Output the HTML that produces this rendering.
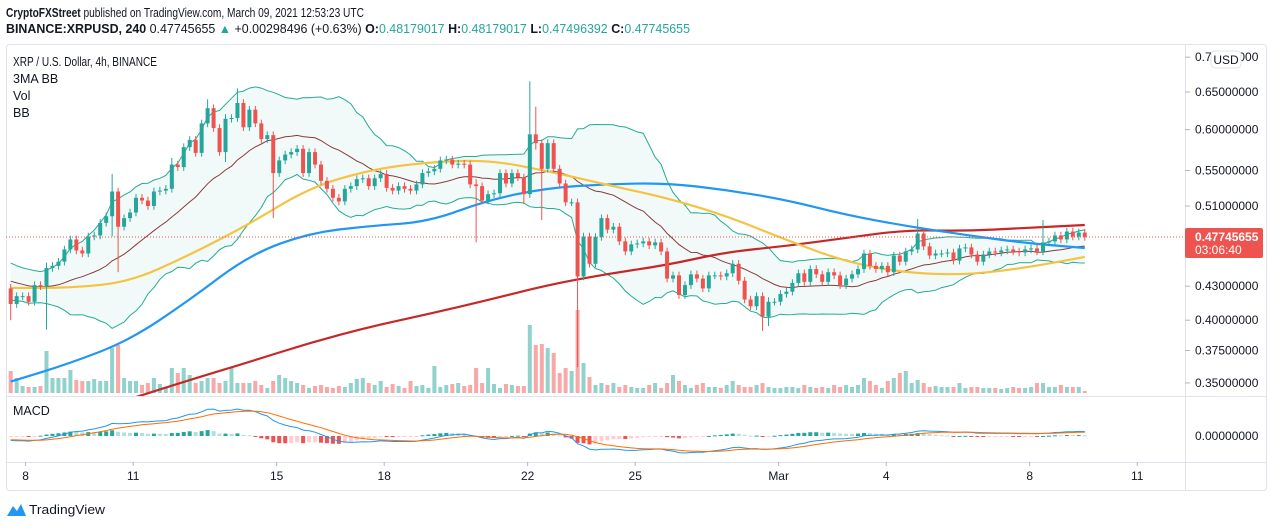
<!DOCTYPE html>
<html><head><meta charset="utf-8"><style>
html,body{margin:0;padding:0;background:#fff;}
svg{display:block;font-family:"Liberation Sans",sans-serif;}
</style></head><body>
<svg id="chart" width="1274" height="528" viewBox="0 0 1274 528" xmlns="http://www.w3.org/2000/svg">
<rect x="0" y="0" width="1274" height="528" fill="#fff"/>
<text x="6" y="17" font-size="12.5" fill="#131722" textLength="358" lengthAdjust="spacingAndGlyphs"><tspan font-weight="bold">CryptoFXStreet</tspan> published on TradingView.com, March 09, 2021 12:53:23 UTC</text>
<text x="6" y="33" font-size="12.5" fill="#131722" textLength="684" lengthAdjust="spacingAndGlyphs"><tspan font-weight="bold">BINANCE:XRPUSD, 240</tspan> 0.47745655 <tspan fill="#26a69a">▲</tspan> +0.00298496 (+0.63%) <tspan font-weight="bold">O:</tspan><tspan fill="#26a69a">0.48179017</tspan> <tspan font-weight="bold">H:</tspan><tspan fill="#26a69a">0.48179017</tspan> <tspan font-weight="bold">L:</tspan><tspan fill="#26a69a">0.47496392</tspan> <tspan font-weight="bold">C:</tspan><tspan fill="#26a69a">0.47745655</tspan></text>
<rect x="6.5" y="44.5" width="1260" height="446" fill="none" stroke="#e0e3eb" rx="3"/>
<line x1="1185.5" y1="44" x2="1185.5" y2="491" stroke="#e0e3eb"/>
<line x1="6" y1="396.5" x2="1267" y2="396.5" stroke="#e0e3eb"/>
<line x1="6" y1="462.5" x2="1267" y2="462.5" stroke="#e0e3eb"/>
<defs><clipPath id="pclip"><rect x="6" y="45" width="1179" height="351"/></clipPath>
<clipPath id="mclip"><rect x="6" y="397" width="1179" height="65"/></clipPath></defs>
<g id="pricePane" clip-path="url(#pclip)"></g>
<g id="macdPane" clip-path="url(#mclip)"></g>
<g id="axes"></g>
<text x="13" y="66" font-size="12.5" fill="#131722" textLength="144" lengthAdjust="spacingAndGlyphs">XRP / U.S. Dollar, 4h, BINANCE</text>
<text x="13" y="83" font-size="12.5" fill="#131722">3MA BB</text>
<text x="13" y="100" font-size="12.5" fill="#131722">Vol</text>
<text x="13" y="117" font-size="12.5" fill="#131722">BB</text>
<text x="13" y="415" font-size="12.5" fill="#131722">MACD</text>
<rect x="1211" y="51" width="30" height="17" rx="4" fill="#fff" stroke="#e0e3eb"/>
<text x="1226" y="64" font-size="12" fill="#131722" text-anchor="middle">USD</text>
<g>
<path d="M7 516 L13 506 L17 511 L21 504 L26 516 Z" fill="#2196f3"/>
<text x="29" y="514" font-size="13" fill="#131722" textLength="76" lengthAdjust="spacingAndGlyphs">TradingView</text>
</g>
</svg>
<script>
const closes=[.414,.421,.421,.416,.431,.430,.447,.449,.453,.465,.475,.464,.461,.478,.479,.492,.499,.526,.488,.497,
.503,.519,.516,.510,.526,.527,.529,.557,.554,.578,.587,.571,.608,.628,.602,.572,.614,.615,.635,.603,
.626,.608,.588,.593,.547,.562,.569,.572,.576,.547,.572,.557,.538,.529,.519,.515,.529,.532,.540,.541,
.532,.541,.546,.530,.527,.532,.529,.527,.534,.547,.549,.552,.562,.563,.557,.558,.557,.534,.532,.516,
.523,.524,.547,.535,.547,.542,.523,.594,.583,.552,.583,.552,.535,.514,.514,.439,.478,.451,.4775,.497,
.485,.488,.473,.463,.470,.471,.473,.469,.472,.463,.437,.440,.422,.431,.441,.437,.428,.440,.440,.439,
.442,.451,.435,.418,.412,.421,.403,.416,.416,.423,.425,.433,.442,.434,.446,.441,.434,.443,.440,.431,
.437,.441,.446,.461,.449,.446,.449,.443,.459,.453,.463,.465,.481,.468,.459,.461,.461,.462,.454,.466,
.467,.460,.453,.460,.463,.462,.464,.465,.463,.462,.465,.466,.463,.472,.473,.479,.475,.483,.478,.482,.4775];
const firstOpen=.428;
const priorCloses=[.452,.448,.445,.441,.438,.442,.436,.432,.428,.431,.426,.43,.433,.437,.44,.435,.43,.426,.428];
const wickOverrides=[[0,.432,.40],[6,.452,.392],[17,.546,.478],[18,.528,.443],[27,.565,.53],[33,.64,.62],[36,.62,.56],[38,.655,.63],
[44,.59,.497],[87,.665,.52],[88,.63,.575],[89,.583,.495],[95,.514,.362],[78,.54,.472],[126,.423,.391],[127,.42,.395],[152,.496,.468],[173,.495,.466],[86,.53,.512]];
const volumes=[22,15,7,6,6,7,42,15,15,15,23,13,12,12,14,12,12,45,48,15,12,12,8,10,15,9,5,25,20,25,
18,10,12,15,15,10,12,25,10,10,10,12,8,5,12,18,15,12,10,8,5,7,8,6,5,7,6,10,14,15,
10,8,12,6,9,7,5,12,7,8,5,27,6,8,9,10,7,8,25,10,25,9,5,9,8,7,7,68,48,49,
45,40,20,25,22,83,30,16,8,10,8,10,6,8,6,5,5,8,10,5,10,18,12,8,5,8,10,6,6,5,
8,12,8,6,6,8,10,6,5,5,6,6,5,8,6,5,6,5,8,6,8,6,8,15,12,8,5,12,15,20,
22,10,13,10,6,7,6,6,6,10,5,6,6,5,5,5,4,5,6,5,5,6,10,10,6,6,8,6,6,6,2];
const sampleIdx=[0,10,20,30,40,50,60,70,80,90,100,110,120,130,140,150,160,170,180];
const ma100=[.351,.365,.3835,.4176,.4596,.4815,.4888,.493,.5166,.530,.5344,.5355,.5277,.5166,.5004,.4888,.4795,.4714,.4664];
const ma50=[.4284,.4284,.4339,.4596,.4908,.530,.5506,.560,.5625,.5495,.5333,.5188,.4993,.4744,.4527,.4423,.4404,.4471,.4576];
const ma200=[.3127,.3249,.3383,.3522,.366,.381,.3942,.4053,.4175,.4311,.4414,.4498,.4625,.4684,.4766,.4846,.4836,.4867,.4898];
const priceTicks=[0.70,0.65,0.60,0.55,0.51,0.43,0.40,0.375,0.35];
const priceTickLabels=["0.70000000","0.65000000","0.60000000","0.55000000","0.51000000","0.43000000","0.40000000","0.37500000","0.35000000"];
const timeTicks=[8,11,15,18,22,25,29,32,36,39];
const timeTickLabels=["8","11","15","18","22","25","Mar","4","8","11"];
const lastPrice=0.47745655;

const NS="http://www.w3.org/2000/svg";
function mk(tag,attrs,parent){const e=document.createElementNS(NS,tag);for(const k in attrs)e.setAttribute(k,attrs[k]);parent.appendChild(e);return e;}
const yP=p=>92+470*Math.log(0.65/p);
const xI=i=>10.7+5.967*i;
const xDay=d=>25.6+(d-8)*35.86;
const pp=document.getElementById('pricePane'),mp=document.getElementById('macdPane'),ax=document.getElementById('axes');
const UP="#26a69a",DN="#ef5350";
const N=closes.length;
const opens=closes.map((c,i)=>i?closes[i-1]:firstOpen);
const highs=closes.map((c,i)=>Math.max(c,opens[i])*1.008);
const lows=closes.map((c,i)=>Math.min(c,opens[i])*0.992);
wickOverrides.forEach(w=>{highs[w[0]]=Math.max(highs[w[0]],w[1]);lows[w[0]]=Math.min(lows[w[0]],w[2]);});

// Bollinger
const all=priorCloses.concat(closes),P=priorCloses.length;
const mid=[],up=[],lo=[];
for(let i=0;i<N;i++){const s=all.slice(i+P-19,i+P+1);const m=s.reduce((a,b)=>a+b,0)/s.length;const sd=Math.sqrt(s.reduce((a,b)=>a+(b-m)*(b-m),0)/s.length);mid.push(m);up.push(m+2*sd);lo.push(m-2*sd);}
const ptsOf=arr=>arr.map((v,i)=>xI(i).toFixed(1)+','+yP(v).toFixed(1));
const fill=mk('polygon',{points:ptsOf(up).concat(ptsOf(lo).reverse()).join(' '),fill:'rgba(34,171,148,0.06)'},pp);


[[up,'bb-upper','#22ab94',1],[lo,'bb-lower','#22ab94',1],[mid,'bb-basis','#8a3a3a',1]].forEach(a=>{
 const l=mk('polyline',{points:ptsOf(a[0]).join(' '),fill:'none',stroke:a[2],'stroke-width':a[3]},pp);
 
 
});
// volume
volumes.forEach((v,i)=>{
 const r=mk('rect',{x:(xI(i)-2).toFixed(1),y:(393-v).toFixed(1),width:4,height:v,fill:closes[i]>=opens[i]?'rgba(38,166,154,0.5)':'rgba(239,83,80,0.5)'},pp);
 
 
});
// MAs
function smooth(vals){let d='';vals.forEach((v,k)=>{const x=xI(sampleIdx[k]),y=yP(v);if(!k)d+='M'+x+' '+y;else{const x0=xI(sampleIdx[k-1]),y0=yP(vals[k-1]);const xm=(x0+x)/2;d+=' Q'+x0+' '+y0+' '+xm+' '+((y0+y)/2);}});const L=vals.length-1;d+=' L'+xI(sampleIdx[L])+' '+yP(vals[L]);return d;}
[[ma200,'ma200-line','#c62828'],[ma100,'ma100-line','#2196f3'],[ma50,'ma50-line','#f5c342']].forEach(a=>{
 const l=mk('path',{d:smooth(a[0]),fill:'none',stroke:a[2],'stroke-width':2.2,'stroke-linejoin':'round'},pp);
 
 
});
// candles
for(let i=0;i<N;i++){
 const x=xI(i),c=closes[i]>=opens[i]?UP:DN;
 const g=mk('g',{},pp);
 
 
 mk('line',{x1:x,x2:x,y1:yP(highs[i]),y2:yP(lows[i]),stroke:c,'stroke-width':1},g);
 const t=yP(Math.max(opens[i],closes[i])),b=yP(Math.min(opens[i],closes[i]));
 mk('rect',{x:x-2,y:t,width:4,height:Math.max(1,b-t),fill:c},g);
}
// last price line
const yl=yP(lastPrice);
const pl=mk('line',{x1:6,x2:1185,y1:yl,y2:yl,stroke:DN,'stroke-width':1,'stroke-dasharray':'1,2'},ax);


// MACD
function ema(arr,n){const k=2/(n+1);const o=[];arr.forEach((v,i)=>o.push(i?v*k+o[i-1]*(1-k):v));return o;}
const e12=ema(all,12),e26=ema(all,26);
const macdAll=e12.map((v,i)=>v-e26[i]);
const sigAll=ema(macdAll,9);
const macd=macdAll.slice(P),sig=sigAll.slice(P),hist=macd.map((v,i)=>v-sig[i]);
const mMax=Math.max(...macd.map(Math.abs),...sig.map(Math.abs));
const yM=v=>436-v/mMax*27;
hist.forEach((h,i)=>{
 const prev=i?hist[i-1]:h;let col;
 if(h>=0)col=h>=prev?'#26a69a':'#b2dfdb';else col=h<prev?'#ef5350':'#ffcdd2';
 const y1=yM(Math.max(h,0)),y2=yM(Math.min(h,0));
 const r=mk('rect',{x:xI(i)-2,y:y1,width:4,height:Math.max(1,y2-y1),fill:col},mp);
 
 
});
[[macd,'macd-line','#2196f3'],[sig,'signal-line','#ff6d00']].forEach(a=>{
 const l=mk('polyline',{points:a[0].map((v,i)=>xI(i).toFixed(1)+','+yM(v).toFixed(1)).join(' '),fill:'none',stroke:a[2],'stroke-width':1},mp);
 
 
});
// price axis
priceTicks.forEach((p,k)=>{
 const y=yP(p);
 mk('line',{x1:1185,x2:1190,y1:y,y2:y,stroke:'#b2b5be'},ax);
 const t=mk('text',{x:1195,y:y+4,'font-size':12,fill:'#131722'},ax);
 t.textContent=priceTickLabels[k];
 
 
});
const zl=mk('text',{x:1195,y:yM(0)+4,'font-size':12,fill:'#131722'},ax);
zl.textContent="0.00000000";


const box=mk('rect',{x:1185,y:yl-9,width:78,height:30,rx:2,fill:DN},ax);


const lt=mk('text',{x:1195,y:yl+4,'font-size':12,fill:'#fff','font-weight':'bold'},ax);lt.textContent="0.47745655";
const ct=mk('text',{x:1195,y:yl+17,'font-size':12,fill:'#fff'},ax);ct.textContent="03:06:40";
// time axis
timeTicks.forEach((d,k)=>{
 const x=xDay(d);
 mk('line',{x1:x,x2:x,y1:462,y2:466,stroke:'#b2b5be'},ax);
 const t=mk('text',{x:x,y:480,'font-size':12,fill:'#131722','text-anchor':'middle'},ax);
 t.textContent=timeTickLabels[k];
 
 
});
</script>
</body></html>
